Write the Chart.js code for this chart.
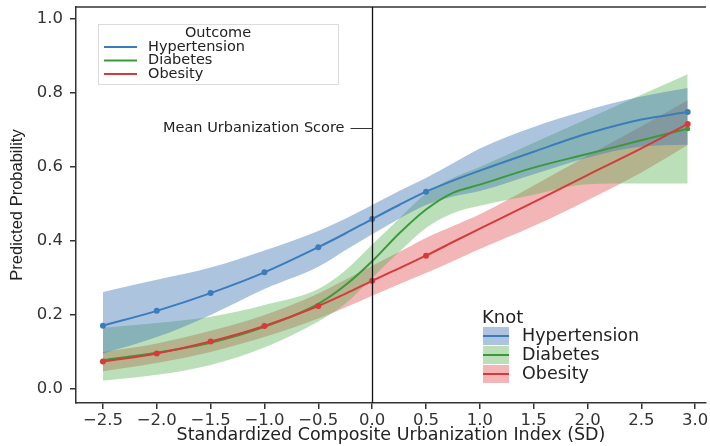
<!DOCTYPE html>
<html>
<head>
<meta charset="utf-8">
<script src="https://cdn.jsdelivr.net/npm/chart.js@4"></script>
<style>
  html, body { margin: 0; padding: 0; background: #fff; }
  #wrap { width: 710px; height: 446px; }
</style>
</head>
<body>
<div id="wrap"><canvas id="myChart" width="710" height="446"></canvas></div>
<script>
(function () {
  'use strict';

  // data
  var outcomes = ['Hypertension', 'Diabetes', 'Obesity'];
  var xTicks = [-2.5, -2.0, -1.5, -1.0, -0.5, 0.0, 0.5, 1.0, 1.5, 2.0, 2.5, 3.0];
  var yTicks = [0.0, 0.2, 0.4, 0.6, 0.8, 1.0];
  var urbanIdx = [-2.5, -2.0, -1.5, -1.0, -0.5, -0.25, 0.0, 0.25, 0.5, 0.75, 1.0, 1.5, 2.0, 2.5, 2.93];
  var markerAt = [-2.5, -2.0, -1.5, -1.0, -0.5, 0.0, 0.5, 2.93];

  var hypFit  = [0.171, 0.211, 0.259, 0.315, 0.383, 0.420, 0.459, 0.497, 0.533, 0.563, 0.590, 0.641, 0.690, 0.728, 0.748];
  var hypHigh = [0.262, 0.295, 0.328, 0.374, 0.427, 0.460, 0.497, 0.535, 0.570, 0.610, 0.650, 0.708, 0.754, 0.790, 0.813];
  var hypLow  = [0.095, 0.140, 0.200, 0.270, 0.330, 0.375, 0.418, 0.460, 0.497, 0.520, 0.535, 0.580, 0.625, 0.655, 0.660];

  var diaFit  = [0.078, 0.098, 0.125, 0.168, 0.230, 0.280, 0.345, 0.420, 0.485, 0.530, 0.552, 0.598, 0.635, 0.672, 0.703];
  var diaHigh = [0.165, 0.178, 0.195, 0.227, 0.270, 0.320, 0.390, 0.460, 0.528, 0.570, 0.600, 0.665, 0.730, 0.795, 0.850];
  var diaLow  = [0.022, 0.038, 0.065, 0.112, 0.182, 0.230, 0.300, 0.370, 0.435, 0.475, 0.495, 0.525, 0.553, 0.555, 0.555];

  var obeFit  = [0.074, 0.096, 0.128, 0.170, 0.224, 0.257, 0.292, 0.326, 0.360, 0.397, 0.433, 0.505, 0.578, 0.650, 0.716];
  var obeHigh = [0.100, 0.123, 0.157, 0.200, 0.258, 0.295, 0.333, 0.370, 0.408, 0.440, 0.472, 0.550, 0.630, 0.710, 0.780];
  var obeLow  = [0.048, 0.070, 0.100, 0.140, 0.190, 0.220, 0.252, 0.283, 0.313, 0.345, 0.378, 0.440, 0.510, 0.585, 0.659];

  var meanScore = 0.0;
  var meanLabelY = 0.705;

  var lineColors = ['#3b7cbd', '#3a9a3a', '#d63a3a'];
  var bandColors = ['rgba(70,125,182,0.45)', 'rgba(92,178,88,0.42)', 'rgba(224,82,82,0.42)'];
  var axisColor = '#333333';
  var sansWide = '"DejaVu Sans", sans-serif';

  function pts(arr) {
    return urbanIdx.map(function (x, i) { return { x: x, y: arr[i] }; });
  }

  function radii(show) {
    return urbanIdx.map(function (x) {
      return show && markerAt.indexOf(x) !== -1 ? 3 : 0;
    });
  }

  function band(high, low, i) {
    return [{
      data: pts(high),
      borderWidth: 0,
      pointRadius: 0,
      backgroundColor: bandColors[i],
      fill: '+1',
      cubicInterpolationMode: 'monotone',
      order: 10
    }, {
      data: pts(low),
      borderWidth: 0,
      pointRadius: 0,
      fill: false,
      cubicInterpolationMode: 'monotone',
      order: 10
    }];
  }

  function fitLine(fit, i, markers) {
    var r = radii(markers);
    if (!markers) r[r.length - 1] = 2.5;
    return {
      data: pts(fit),
      borderColor: lineColors[i],
      backgroundColor: lineColors[i],
      borderWidth: 2,
      pointRadius: r,
      pointBorderWidth: 0,
      fill: false,
      cubicInterpolationMode: 'monotone',
      order: 3 - i
    };
  }

  var datasets = []
    .concat(band(hypHigh, hypLow, 0))
    .concat(band(diaHigh, diaLow, 1))
    .concat(band(obeHigh, obeLow, 2))
    .concat([fitLine(hypFit, 0, true), fitLine(diaFit, 1, false), fitLine(obeFit, 2, true)]);

  var extras = {
    id: 'extras',
    afterDatasetsDraw: function (chart) {
      var ctx = chart.ctx;
      var a = chart.chartArea;
      var xs = chart.scales.x;
      var ys = chart.scales.y;
      ctx.save();

      // top border of the panel
      ctx.strokeStyle = axisColor;
      ctx.lineWidth = 1.5;
      ctx.beginPath();
      ctx.moveTo(a.left, a.top);
      ctx.lineTo(a.right, a.top);
      ctx.stroke();

      // mean urbanization line
      var x0 = Math.round(xs.getPixelForValue(meanScore)) + 0.5;
      ctx.strokeStyle = '#111';
      ctx.lineWidth = 1.3;
      ctx.beginPath();
      ctx.moveTo(x0, a.top);
      ctx.lineTo(x0, a.bottom);
      ctx.stroke();

      var yl = Math.round(ys.getPixelForValue(meanLabelY)) + 0.5;
      ctx.strokeStyle = '#333';
      ctx.lineWidth = 1;
      ctx.beginPath();
      ctx.moveTo(x0 - 22, yl);
      ctx.lineTo(x0, yl);
      ctx.stroke();
      ctx.fillStyle = '#222';
      ctx.font = '14.5px ' + sansWide;
      ctx.textAlign = 'right';
      ctx.textBaseline = 'middle';
      ctx.fillText('Mean Urbanization Score', x0 - 28, yl);

      // Outcome legend (top left)
      ctx.fillStyle = 'rgba(255,255,255,0.9)';
      ctx.strokeStyle = '#dcdcdc';
      ctx.lineWidth = 1;
      ctx.fillRect(98.5, 24.5, 240, 60);
      ctx.strokeRect(98.5, 24.5, 240, 60);
      ctx.fillStyle = '#222';
      ctx.textAlign = 'center';
      ctx.fillText('Outcome', 218, 33);
      ctx.textAlign = 'left';
      outcomes.forEach(function (name, i) {
        var y = 47 + i * 13.5;
        ctx.strokeStyle = lineColors[i];
        ctx.lineWidth = 2;
        ctx.beginPath();
        ctx.moveTo(104, y);
        ctx.lineTo(137, y);
        ctx.stroke();
        ctx.fillStyle = '#222';
        ctx.fillText(name, 148, y);
      });

      // Knot legend (bottom right)
      ctx.font = '18px ' + sansWide;
      ctx.fillStyle = '#222';
      ctx.fillText('Knot', 482, 318);
      ctx.font = '17.5px ' + sansWide;
      outcomes.forEach(function (name, i) {
        var top = 327 + i * 19;
        ctx.fillStyle = bandColors[i];
        ctx.fillRect(483, top, 26, 18);
        ctx.strokeStyle = lineColors[i];
        ctx.lineWidth = 2;
        ctx.beginPath();
        ctx.moveTo(483, top + 9);
        ctx.lineTo(509, top + 9);
        ctx.stroke();
        ctx.fillStyle = '#222';
        ctx.fillText(name, 522, top + 9);
      });

      ctx.restore();
    }
  };

  var ctx = document.getElementById('myChart').getContext('2d');
  var myChart = new Chart(ctx, {
    type: 'line',
    data: { datasets: datasets },
    plugins: [extras],
    options: {
      responsive: false,
      animation: false,
      devicePixelRatio: 1,
      layout: { padding: { top: 7, right: 0, left: 0, bottom: 0 } },
      plugins: {
        legend: { display: false },
        tooltip: { enabled: false },
        filler: { drawTime: 'beforeDatasetsDraw' }
      },
      scales: {
        x: {
          type: 'linear',
          min: -2.75,
          max: 3.1,
          afterBuildTicks: function (scale) {
            scale.ticks = xTicks.map(function (v) { return { value: v }; });
          },
          afterFit: function (scale) {
            scale.height = 43;
            scale.paddingLeft = 0;
            scale.paddingRight = 0;
          },
          grid: { display: true, drawOnChartArea: false, drawTicks: true, tickLength: 6, color: axisColor, lineWidth: 1.5 },
          border: { display: true, color: axisColor, width: 1.5 },
          ticks: {
            padding: 2,
            color: '#333',
            font: { family: sansWide, size: 16.5 },
            maxRotation: 0,
            callback: function (v) { return (v < 0 ? '\u2212' : '') + Math.abs(v).toFixed(1); }
          },
          title: {
            display: true,
            text: 'Standardized Composite Urbanization Index (SD)',
            color: '#222',
            font: { family: sansWide, size: 17.5 },
            padding: { top: 0, bottom: 0 }
          }
        },
        y: {
          type: 'linear',
          min: -0.038,
          max: 1.032,
          afterBuildTicks: function (scale) {
            scale.ticks = yTicks.map(function (v) { return { value: v }; });
          },
          afterFit: function (scale) {
            scale.width = 76;
            scale.paddingTop = 0;
            scale.paddingBottom = 0;
          },
          grid: { display: true, drawOnChartArea: false, drawTicks: true, tickLength: 6, color: axisColor, lineWidth: 1.5 },
          border: { display: true, color: axisColor, width: 1.5 },
          ticks: {
            padding: 7,
            color: '#333',
            font: { family: sansWide, size: 16.5 },
            callback: function (v) { return v.toFixed(1); }
          },
          title: {
            display: true,
            text: 'Predicted Probability',
            color: '#222',
            font: { family: '"Liberation Sans", Arial, sans-serif', size: 16.5 },
            padding: { top: 8, bottom: 0 }
          }
        }
      }
    }
  });
})();
</script>
</body>
</html>
